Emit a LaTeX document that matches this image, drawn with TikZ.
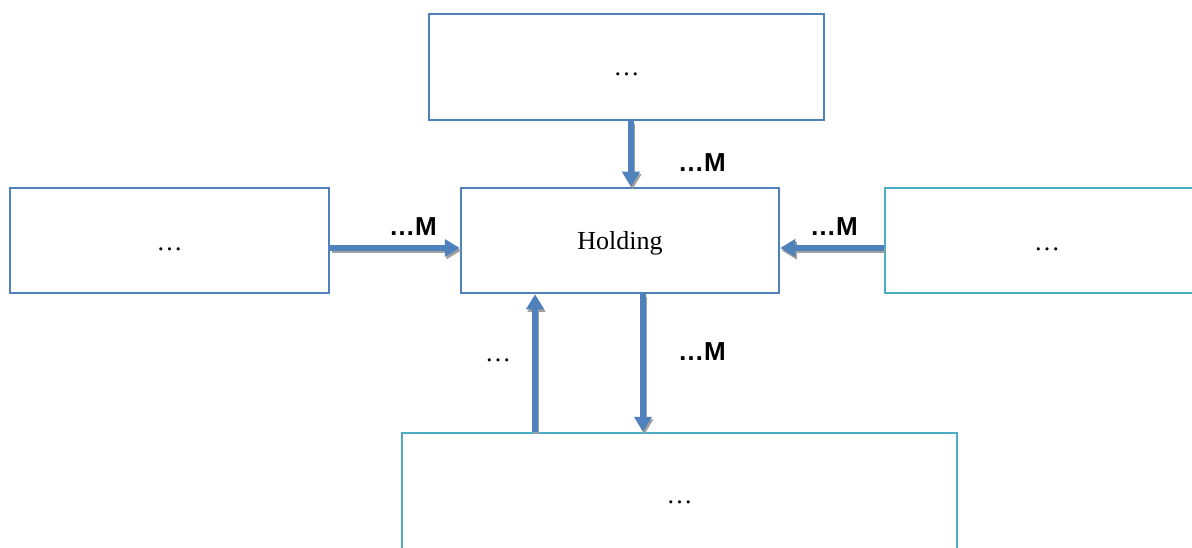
\documentclass[tikz,border=0pt]{standalone}
\usepackage{fontspec}
\setmainfont{Liberation Serif}
\newfontfamily\arialfont{Liberation Sans}
\usetikzlibrary{arrows.meta}
\definecolor{boxblue}{HTML}{4F81BD}
\definecolor{boxcyan}{HTML}{4BACC6}
\definecolor{shade}{HTML}{A0A0A0}
\tikzset{
  box/.style={draw=boxblue, line width=2.5pt, fill=white, inner sep=0pt, font=\fontsize{26}{30}\selectfont},
  cbox/.style={box, draw=boxcyan},
  flow/.style={draw=boxblue, line width=5.5pt, -{Triangle[length=15pt,width=17pt]}},
  flowshadow/.style={draw=shade, line width=5.5pt, -{Triangle[length=15pt,width=17pt]}, transform canvas={xshift=1.5pt,yshift=-2.5pt}},
  mlabel/.style={font=\arialfont\bfseries\fontsize{26}{30}\selectfont, inner sep=0pt},
  plabel/.style={font=\fontsize{26}{30}\selectfont, inner sep=0pt}
}
\begin{document}
\begin{tikzpicture}[x=1pt,y=-1pt]
\useasboundingbox (0,0) rectangle (1192,548);
\clip (0,0) rectangle (1192,548);
\node[box, minimum width=395pt, minimum height=106pt] (top) at (626.5,67) {\raisebox{-8.5pt}[0pt][0pt]{…}};
\node[box, minimum width=319pt, minimum height=105pt] (left) at (169.5,240.5) {\raisebox{-10pt}[0pt][0pt]{…}};
\node[box, minimum width=318pt, minimum height=105pt] (hold) at (620,240.5) {\raisebox{-9pt}[0pt][0pt]{Holding}};
\node[cbox, minimum width=324pt, minimum height=105pt] (right) at (1047,240.5) {\raisebox{-10pt}[0pt][0pt]{…}};
\node[cbox, minimum width=555pt, minimum height=128pt] (bot) at (679.5,497) {\raisebox{-6.5pt}[0pt][0pt]{…}};
% shadows
\draw[flowshadow] ([xshift=4.5pt]top.south) -- ([xshift=11pt]hold.north);
\draw[flowshadow] ([yshift=-7.5pt]left.east) -- ([yshift=-7.5pt]hold.west);
\draw[flowshadow] ([yshift=-7.5pt]right.west) -- ([yshift=-7.5pt]hold.east);
\draw[flowshadow] ([xshift=-144.5pt]bot.north) -- ([xshift=-85pt]hold.south);
\draw[flowshadow] ([xshift=23pt]hold.south) -- ([xshift=-36.5pt]bot.north);
% arrows
\draw[flow] ([xshift=4.5pt]top.south) -- ([xshift=11pt]hold.north);
\draw[flow] ([yshift=-7.5pt]left.east) -- ([yshift=-7.5pt]hold.west);
\draw[flow] ([yshift=-7.5pt]right.west) -- ([yshift=-7.5pt]hold.east);
\draw[flow] ([xshift=-144.5pt]bot.north) -- ([xshift=-85pt]hold.south);
\draw[flow] ([xshift=23pt]hold.south) -- ([xshift=-36.5pt]bot.north);
% labels
\node[mlabel] (l1) at (702,163) {…M};
\node[mlabel] (l2) at (413,227) {…M};
\node[mlabel] (l3) at (834,227) {…M};
\node[mlabel] (l4) at (702,352) {…M};
\node[plabel] (l5) at (498,360) {…};
\end{tikzpicture}
\end{document}
